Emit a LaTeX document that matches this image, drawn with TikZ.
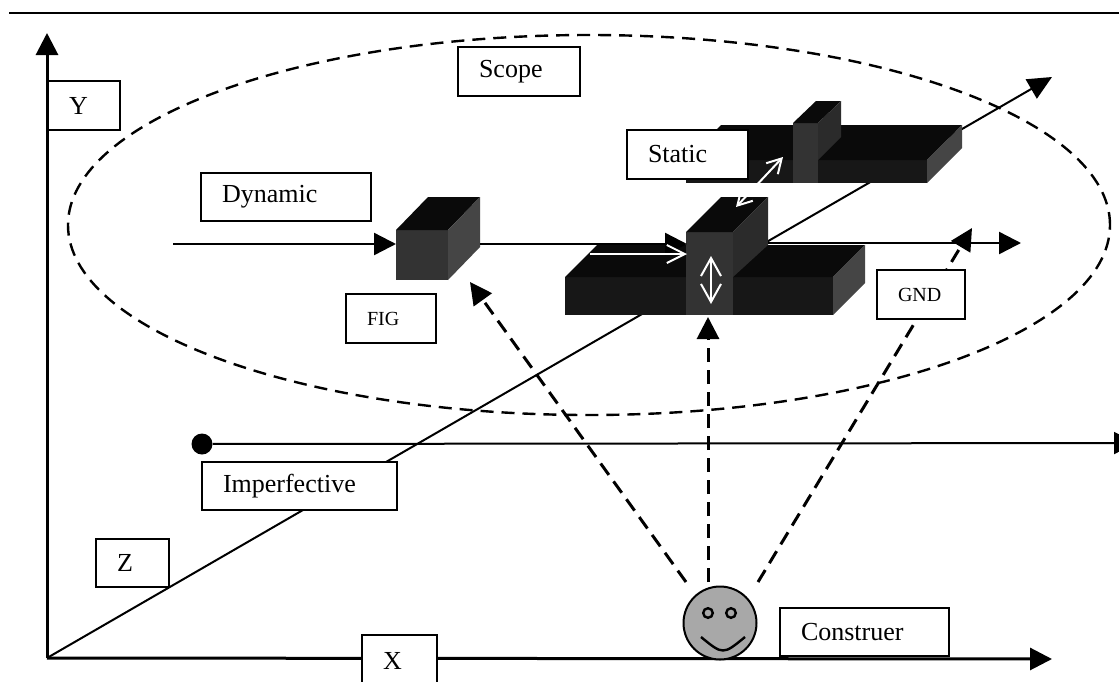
\documentclass[tikz,border=0pt]{standalone}
\usepackage{fontspec}
\setmainfont{Liberation Serif}
\usetikzlibrary{arrows.meta}
\definecolor{blockA}{gray}{0.04}
\definecolor{blockB}{gray}{0.09}
\definecolor{blockC}{gray}{0.2}
\definecolor{blockD}{gray}{0.27}
\definecolor{facegray}{gray}{0.66}
% solid cuboid: x, y (front top-left), width, height, depth dx, depth dy, front, top, side colours
\newcommand\cuboid[9]{%
  \fill[#7] (#1,#2) rectangle ({#1+#3},{#2+#4});
  \fill[#8] (#1,#2) -- ({#1+#5},{#2-#6}) -- ({#1+#3+#5},{#2-#6}) -- ({#1+#3},#2) -- cycle;
  \fill[#9] ({#1+#3},#2) -- ({#1+#3+#5},{#2-#6}) -- ({#1+#3+#5},{#2+#4-#6}) -- ({#1+#3},{#2+#4}) -- cycle;
}
\begin{document}
\begin{tikzpicture}[x=0.5pt,y=-0.5pt,
  lbl/.style={draw, fill=white, line width=1pt, font=\fontsize{13}{15}\selectfont,
    inner xsep=10.5pt, inner ysep=0pt, align=left, anchor=north west},
  smalllbl/.style={lbl, font=\fontsize{10}{12}\selectfont},
  blkhead/.style={-{Triangle[length=11pt,width=11pt]}},
  axisline/.style={line width=1.5pt, blkhead},
  flowline/.style={line width=1.2pt, blkhead},
  dasharrow/.style={line width=1.5pt, dash pattern=on 7pt off 4pt, blkhead},
  whiteone/.style={white, line width=1pt, -{Straight Barb[length=9pt,width=9pt]}},
  whitetwo/.style={white, line width=1pt,
    {Straight Barb[length=9pt,width=10pt]}-{Straight Barb[length=9pt,width=10pt]}},
]
\clip (0,0) rectangle (1119,681);
\fill[white] (0,0) rectangle (1119,681);

% rule across the top
\draw[line width=1pt] (9,13) -- (1119,13);

% scope ellipse
\draw[line width=1.2pt, dash pattern=on 6.5pt off 4pt] (589,225) ellipse [x radius=260.5pt, y radius=95pt];

% axes
\coordinate (O) at (47,658);
\coordinate (ytip) at (47,33);
\coordinate (xtip) at (1052,659);
\coordinate (ztip) at (1052,77);
\draw[axisline] (O) -- (ytip);
\draw[axisline] (O) -- (xtip);
\draw[line width=1pt, -{Triangle[length=12pt,width=11pt]}] (O) -- (ztip);

% imperfective time line
\node[circle, fill=black, inner sep=0pt, minimum size=10.5pt] (dot) at (202,444) {};
\coordinate (imptip) at (1136,443);
\draw[line width=1pt, blkhead] (dot) -- (imptip);

% dynamic line into the figure
\coordinate (dynstart) at (173,244);
\coordinate (figleft) at (396,244);
\draw[flowline] (dynstart) -- (figleft);

% figure cube
\cuboid{396}{230}{52}{50}{32}{33}{blockC}{blockA}{blockD}

% ground slab
\cuboid{565}{277}{268}{38}{32}{32}{blockB}{blockA}{blockD}
% upright on the ground slab
\fill[blockC] (686,232) rectangle (733,315);
\fill[blockA] (686,232) -- (721,197) -- (768,197) -- (733,232) -- cycle;
\fill[blockC!85!black] (733,232) -- (768,197) -- (768,245) -- (733,277) -- cycle;

% upper (static) slab with its upright
\cuboid{686}{160}{241}{23}{35}{35}{blockB}{blockA}{blockD}
\fill[blockC] (793,123) rectangle (818,183);
\fill[blockA] (793,123) -- (816,101) -- (841,101) -- (818,123) -- cycle;
\fill[blockC!85!black] (818,123) -- (841,101) -- (841,137) -- (818,160) -- cycle;

% motion of the figure along the ground
\coordinate (figright) at (480,244);
\coordinate (upleft) at (687,244);
\coordinate (upright) at (768,243);
\coordinate (gndtip) at (1021,243);
\draw[flowline] (figright) -- (upleft);
\draw[flowline] (upright) -- (gndtip);

% white arrows on the blocks
\coordinate (wa1) at (590,254);
\coordinate (wa2) at (687,254);
\draw[whiteone] (wa1) -- (wa2);
\coordinate (wb1) at (711,256);
\coordinate (wb2) at (711,304);
\draw[whitetwo] (wb1) -- (wb2);
\coordinate (wc1) at (736,207);
\coordinate (wc2) at (783,157);
\draw[white, line width=1pt, {Straight Barb[length=7pt,width=8pt]}-{Straight Barb[length=7pt,width=8pt]}] (wc1) -- (wc2);

% lines of sight of the construer
\coordinate (s1) at (686,582);
\coordinate (s2) at (708,582);
\coordinate (s3) at (758,582);
\coordinate (t1) at (470,282);
\coordinate (t2) at (708,317);
\coordinate (t3) at (972,228);
\draw[dasharrow] (s1) -- (t1);
\draw[dasharrow] (s2) -- (t2);
\draw[dasharrow] (s3) -- (t3);

% labels
\node[lbl, text width=40pt, minimum height=24.5pt] (scope) at (457,46) {Scope};
\node[lbl, text width=15pt, minimum height=24.5pt] (ylbl) at (47,80) {Y};
\node[lbl, text width=39.5pt, minimum height=24.5pt] (static) at (626,129) {Static};
\node[lbl, text width=64pt, minimum height=24pt] (dynamic) at (200,172) {Dynamic};
\node[smalllbl, text width=24pt, minimum height=24.5pt] (fig) at (345,293) {FIG};
\node[smalllbl, text width=23pt, minimum height=24.5pt] (gnd) at (876,269) {GND};
\node[lbl, text width=76.5pt, minimum height=24pt] (imperf) at (201,461) {Imperfective};
\node[lbl, text width=15.5pt, minimum height=24pt] (zlbl) at (95,538) {Z};
\node[lbl, text width=16.5pt, minimum height=26pt] (xlbl) at (361,634) {X};
\node[lbl, text width=63.5pt, minimum height=24pt] (constr) at (779,607) {Construer};

% the construer
\node[circle, draw, line width=1pt, fill=facegray, minimum size=36.5pt, inner sep=0pt] (face) at (720,623) {};
\draw[line width=1.2pt, fill=facegray] (708,613) circle[radius=2.4pt];
\draw[line width=1.2pt, fill=facegray] (731,613) circle[radius=2.4pt];
\draw[line width=1.2pt] (701,637) .. controls (723,655) .. (745,637);
\end{tikzpicture}
\end{document}
